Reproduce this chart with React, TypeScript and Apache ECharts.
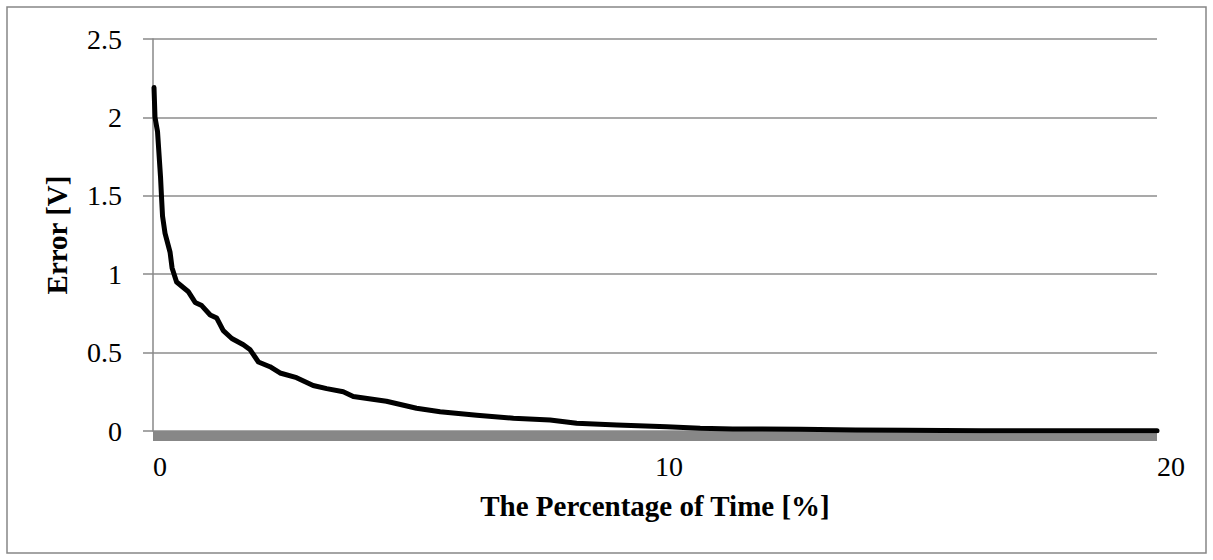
import React, { useEffect, useRef } from "react";
import * as echarts from "echarts";

// Percentage of time [%] (x) and error [V] (y)
const timePercent = [
  0.02, 0.04, 0.09, 0.15, 0.17, 0.19, 0.24, 0.34, 0.38, 0.47, 0.7, 0.84, 0.97,
  1.14, 1.27, 1.4, 1.57, 1.8, 1.93, 2.1, 2.33, 2.53, 2.86, 3.19, 3.46, 3.79,
  3.99, 4.65, 5.25, 5.72, 6.45, 7.18, 7.91, 8.44, 9.24, 10.23, 10.9, 11.55,
  12.9, 14.0, 15.0, 16.5, 18.0, 20.0,
];
const errorVolts = [
  2.19, 2.0, 1.91, 1.62, 1.49, 1.37, 1.26, 1.14, 1.04, 0.95, 0.89, 0.82, 0.8,
  0.74, 0.72, 0.64, 0.59, 0.55, 0.52, 0.44, 0.41, 0.37, 0.34, 0.29, 0.27, 0.25,
  0.22, 0.19, 0.145, 0.123, 0.1, 0.081, 0.07, 0.049, 0.038, 0.027, 0.017, 0.013,
  0.011, 0.007, 0.004, 0.002, 0.001, 0.001,
];
const yTickLabels = ["0", "0.5", "1", "1.5", "2", "2.5"];
const xAxisTitle = "The Percentage of Time [%]";
const yAxisTitle = "Error [V]";

const FONT = "'Liberation Serif', 'Times New Roman', serif";

export default function App() {
  const ref = useRef<HTMLDivElement>(null);
  useEffect(() => {
    if (!ref.current) return;
    const chart = echarts.init(ref.current, undefined, { renderer: "svg" });
    const data = timePercent.map((x, i) => [x, errorVolts[i]]);
    chart.setOption({
      animation: false,
      backgroundColor: "#ffffff",
      grid: { left: 153, top: 39, right: 56, bottom: 129, containLabel: false },
      graphic: [
        {
          type: "rect",
          shape: { x: 7, y: 7, width: 1199, height: 546 },
          style: { fill: "none", stroke: "#868686", lineWidth: 1.5 },
          silent: true,
          z: -1,
        },
      ],
      xAxis: {
        type: "value",
        min: 0,
        max: 20,
        interval: 10,
        offset: 5,
        name: xAxisTitle,
        nameLocation: "middle",
        nameGap: 55,
        nameTextStyle: { fontFamily: FONT, fontSize: 29, fontWeight: "bold", color: "#000" },
        axisLine: {
          show: true,
          onZero: false,
          lineStyle: { color: "#878787", width: 10, cap: "butt" },
        },
        axisTick: { show: false },
        splitLine: { show: false },
        axisLabel: {
          align: "left",
          margin: 16,
          fontFamily: FONT,
          fontSize: 28,
          color: "#000",
          formatter: (v: number) => String(v),
        },
      },
      yAxis: {
        type: "value",
        min: 0,
        max: 2.5,
        interval: 0.5,
        name: yAxisTitle,
        nameLocation: "middle",
        nameGap: 82,
        nameRotate: 90,
        nameTextStyle: { fontFamily: FONT, fontSize: 29, fontWeight: "bold", color: "#000" },
        axisLine: { show: true, lineStyle: { color: "#888888", width: 1.5 } },
        axisTick: { show: true, length: 10, lineStyle: { color: "#888888", width: 1.5 } },
        splitLine: { show: true, lineStyle: { color: "#8c8c8c", width: 1.5 } },
        axisLabel: {
          margin: 31,
          fontFamily: FONT,
          fontSize: 28,
          color: "#000",
          formatter: (v: number) => yTickLabels[Math.round(v / 0.5)] ?? String(v),
        },
      },
      series: [
        {
          type: "line",
          data,
          showSymbol: false,
          symbol: "none",
          smooth: false,
          lineStyle: { color: "#000000", width: 5, join: "round", cap: "round" },
          z: 5,
        },
      ],
    });
    return () => chart.dispose();
  }, []);
  return (
    <div
      ref={ref}
      style={{ position: "absolute", left: 0, top: 0, width: 1213, height: 560 }}
    />
  );
}
